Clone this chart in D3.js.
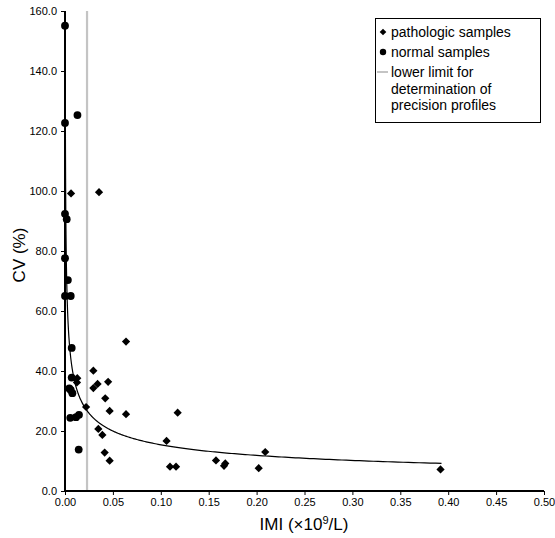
<!DOCTYPE html>
<html>
<head>
<meta charset="utf-8">
<script src="https://cdn.jsdelivr.net/npm/d3@7"></script>
<style>
  body { margin: 0; background: #fff; }
  svg { display: block; font-family: "Liberation Sans", Arial, sans-serif; }
</style>
</head>
<body>
<svg id="chart" width="555" height="538"></svg>
<script>
// normal samples (circles)
const normalX = [0.000, 0.000, 0.013, 0.000, 0.0018, 0.000, 0.003, 0.000, 0.006, 0.007, 0.007, 0.0045, 0.006, 0.0077, 0.0055, 0.0115, 0.0146, 0.0143];
const normalY = [155.1, 122.7, 125.3, 92.4, 90.6, 77.6, 70.3, 65.0, 65.0, 47.7, 37.8, 34.2, 33.7, 32.6, 24.4, 24.6, 25.4, 13.8];

// pathologic samples (diamonds)
const pathX = [0.0063, 0.0355, 0.0128, 0.0125, 0.022, 0.0296, 0.0296, 0.034, 0.045, 0.042, 0.0466, 0.0637, 0.0637, 0.0348, 0.039, 0.0414, 0.0466, 0.106, 0.1176, 0.1096, 0.1159, 0.1576, 0.166, 0.1673, 0.2022, 0.209, 0.392];
const pathY = [99.2, 99.6, 37.6, 36.2, 28.0, 40.1, 34.3, 35.7, 36.4, 30.9, 26.7, 49.8, 25.6, 20.7, 18.7, 12.8, 10.1, 16.7, 26.1, 8.1, 8.1, 10.2, 8.4, 9.2, 7.6, 13.0, 7.2];

// power trendline CV = a * IMI^b
const trendA = 6.48;
const trendB = -0.376;
const trendXMax = 0.393;

const lowerLimit = 0.023;

const xTicks = [0, 0.05, 0.10, 0.15, 0.20, 0.25, 0.30, 0.35, 0.40, 0.45, 0.50];
const yTicks = [0, 20, 40, 60, 80, 100, 120, 140, 160];

const legendItems = ['pathologic samples', 'normal samples'];
const legendLine = ['lower limit for', 'determination of', 'precision profiles'];

const svg = d3.select('#chart');

const x = d3.scaleLinear().domain([0, 0.5]).range([65, 544]);
const y = d3.scaleLinear().domain([0, 160]).range([491, 11]);

// lower limit line
svg.append('line')
  .attr('x1', x(lowerLimit)).attr('x2', x(lowerLimit))
  .attr('y1', y(160)).attr('y2', y(0))
  .attr('stroke', '#c4c4c4').attr('stroke-width', 2.2);

// trendline
svg.append('clipPath').attr('id', 'plotclip')
  .append('rect').attr('x', 60).attr('y', y(160)).attr('width', 490).attr('height', y(0) - y(160));

const xStart = Math.pow(165 / trendA, 1 / trendB);
const trendPts = d3.range(0, 1.0001, 0.002).map(t => {
  const xv = xStart * Math.pow(trendXMax / xStart, t);
  return [xv, trendA * Math.pow(xv, trendB)];
});
svg.append('path')
  .datum(trendPts)
  .attr('clip-path', 'url(#plotclip)')
  .attr('fill', 'none')
  .attr('stroke', '#000')
  .attr('stroke-width', 1.2)
  .attr('d', d3.line().x(d => x(d[0])).y(d => y(d[1])));

// axes
const yAxis = svg.append('g')
  .attr('transform', `translate(${x(0)},0)`)
  .call(d3.axisLeft(y).tickValues(yTicks).tickFormat(d3.format('.1f')).tickSize(4).tickPadding(4));
const xAxis = svg.append('g')
  .attr('transform', `translate(0,${y(0)})`)
  .call(d3.axisBottom(x).tickValues(xTicks).tickFormat(d3.format('.2f')).tickSize(4).tickPadding(3));

[xAxis, yAxis].forEach(ax => {
  ax.select('.domain').attr('stroke', '#000').attr('stroke-width', 2);
  ax.selectAll('.tick line').attr('stroke', '#000').attr('stroke-width', 1);
  ax.selectAll('.tick text').attr('font-size', 11).attr('fill', '#000')
    .attr('font-family', '"Liberation Sans", Arial, sans-serif');
});
xAxis.select('.domain').attr('d', `M${x(0)},0H${x(0.5)}`);
yAxis.select('.domain').attr('d', `M0,${y(0)}V${y(160)}`);

// markers
const diamond = d3.symbol().type(d3.symbolSquare).size(34);

svg.append('g').selectAll('path')
  .data(pathX.map((v, i) => [v, pathY[i]]))
  .join('path')
  .attr('d', diamond)
  .attr('transform', d => `translate(${x(d[0])},${y(d[1])}) rotate(45)`)
  .attr('fill', '#000');

svg.append('g').selectAll('circle')
  .data(normalX.map((v, i) => [v, normalY[i]]))
  .join('circle')
  .attr('cx', d => x(d[0])).attr('cy', d => y(d[1]))
  .attr('r', 3.9)
  .attr('fill', '#000');

// axis titles
svg.append('text')
  .attr('x', 304).attr('y', 530)
  .attr('text-anchor', 'middle')
  .attr('font-size', 17)
  .html('IMI (×10<tspan dy="-6" font-size="11">9</tspan><tspan dy="6">/L)</tspan>');

svg.append('text')
  .attr('transform', 'translate(25,255) rotate(-90)')
  .attr('text-anchor', 'middle')
  .attr('font-size', 17)
  .text('CV (%)');

// legend
const lg = svg.append('g');
lg.append('rect')
  .attr('x', 375.5).attr('y', 18.5).attr('width', 165).attr('height', 104)
  .attr('fill', '#fff').attr('stroke', '#000').attr('stroke-width', 1);

lg.append('path')
  .attr('d', d3.symbol().type(d3.symbolSquare).size(22))
  .attr('transform', 'translate(383,32) rotate(45)');
lg.append('circle').attr('cx', 383).attr('cy', 52).attr('r', 3.2);
lg.append('line')
  .attr('x1', 377).attr('x2', 388).attr('y1', 72).attr('y2', 72)
  .attr('stroke', '#c4c4c4').attr('stroke-width', 2);

legendItems.forEach((t, i) => {
  lg.append('text').attr('x', 391).attr('y', 37 + i * 20).attr('font-size', 14).text(t);
});
legendLine.forEach((t, i) => {
  lg.append('text').attr('x', 391).attr('y', 77 + i * 16.5).attr('font-size', 14).text(t);
});
</script>
</body>
</html>
